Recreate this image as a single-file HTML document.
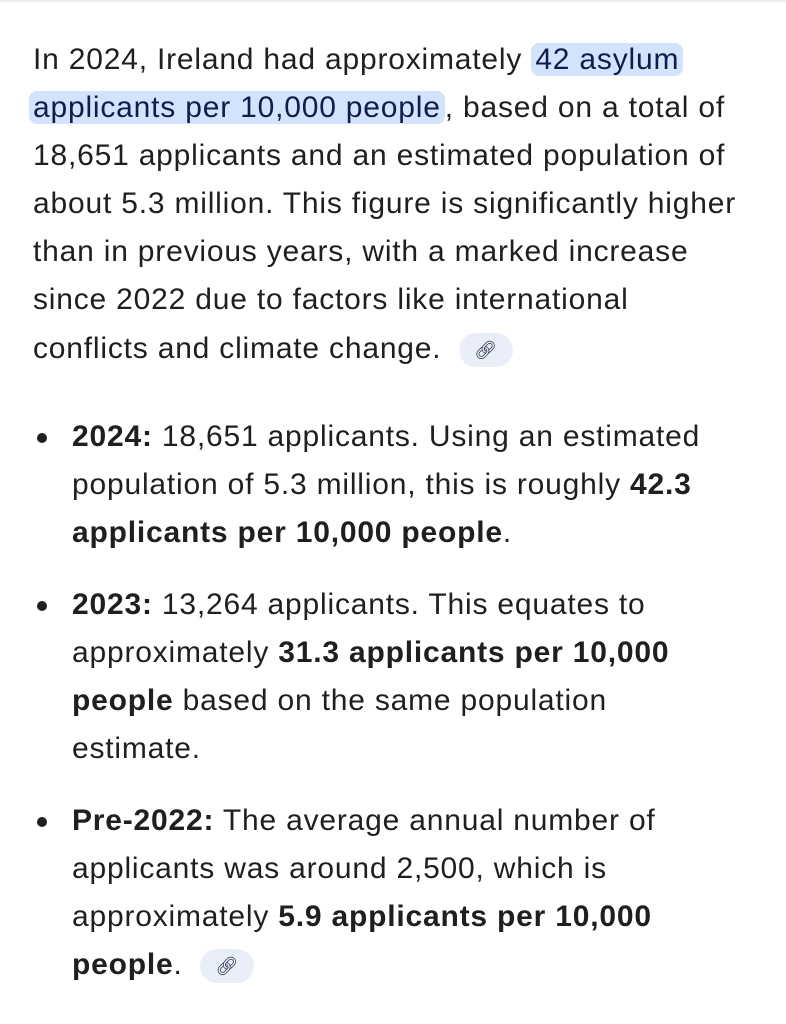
<!DOCTYPE html>
<html><head><meta charset="utf-8"><style>
body{margin:0;width:786px;height:1024px;background:#fff;position:relative;overflow:hidden;font-family:"Liberation Sans",sans-serif;color:#1f1f1f;font-size:30px;letter-spacing:0.8px}
.l{position:absolute;white-space:nowrap;line-height:36px;height:36px}
.hl{background:#d3e3fd;color:#0b1f4a;border-radius:8px;padding:0 4px}
b{font-weight:bold}
.dot{position:absolute;width:10px;height:10px;border-radius:50%;background:#1f1f1f}
.chip{display:inline-block;vertical-align:middle;width:54px;height:34px;border-radius:17px;background:#e9eef9;text-align:center;line-height:34px;font-size:18px;color:#1f2a44;margin-left:8px;letter-spacing:0}
</style></head><body>
<div style="position:absolute;left:0;top:0;width:786px;height:2px;background:#eee"></div>
<div class="l" style="left:33px;top:42px">In 2024, Ireland had approximately <span class="hl">42 asylum</span></div>
<div class="l" style="left:29px;top:90px"><span class="hl">applicants per 10,000 people</span>, based on a total of</div>
<div class="l" style="left:33px;top:138px">18,651 applicants and an estimated population of</div>
<div class="l" style="left:33px;top:186px">about 5.3 million. This figure is significantly higher</div>
<div class="l" style="left:33px;top:234px">than in previous years, with a marked increase</div>
<div class="l" style="left:33px;top:282px">since 2022 due to factors like international</div>
<div class="l" style="left:33px;top:331px">conflicts and climate change. <span class="chip">&#128279;&#xFE0E;</span></div>

<div class="dot" style="left:37px;top:433px"></div>
<div class="l" style="left:72px;top:419px"><b>2024:</b> 18,651 applicants. Using an estimated</div>
<div class="l" style="left:72px;top:467px">population of 5.3 million, this is roughly <b>42.3</b></div>
<div class="l" style="left:72px;top:515px"><b>applicants per 10,000 people</b>.</div>

<div class="dot" style="left:37px;top:601px"></div>
<div class="l" style="left:72px;top:587px"><b>2023:</b> 13,264 applicants. This equates to</div>
<div class="l" style="left:72px;top:635px">approximately <b>31.3 applicants per 10,000</b></div>
<div class="l" style="left:72px;top:683px"><b>people</b> based on the same population</div>
<div class="l" style="left:72px;top:731px">estimate.</div>

<div class="dot" style="left:37px;top:817px"></div>
<div class="l" style="left:72px;top:803px"><b>Pre-2022:</b> The average annual number of</div>
<div class="l" style="left:72px;top:851px">applicants was around 2,500, which is</div>
<div class="l" style="left:72px;top:899px">approximately <b>5.9 applicants per 10,000</b></div>
<div class="l" style="left:72px;top:947px"><b>people</b>. <span class="chip">&#128279;&#xFE0E;</span></div>
</body></html>
